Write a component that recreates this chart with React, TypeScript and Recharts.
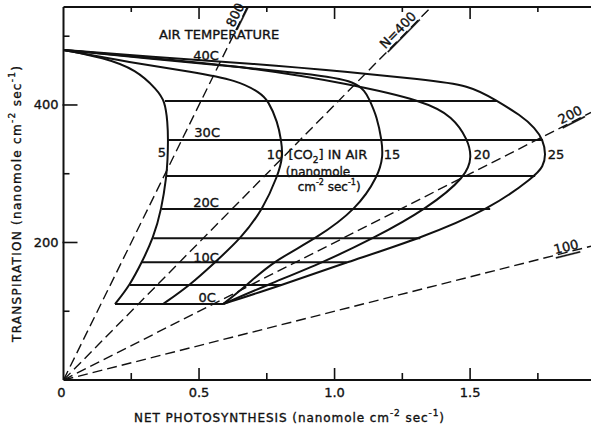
import React from 'react';
import { ComposedChart, Line, XAxis, YAxis, ReferenceDot } from 'recharts';

// ---- axes ----
const X_MAX = 1.946;
const Y_MAX = 542.5;
const X_TICKS = [0, 0.25, 0.5, 0.75, 1, 1.25, 1.5, 1.75];
const X_MAJOR = [0, 0.5, 1, 1.5];
const X_TICK_LABELS = ['0', '0.5', '1.0', '1.5'];
const Y_TICKS = [100, 200, 300, 400, 500];
const Y_MAJOR = [200, 400];
const Y_TICK_LABELS = ['200', '400'];

// ---- CO2 curves (net photosynthesis x, transpiration y) ----
const curveCO2_5 = [
  { x: 0, y: 480 }, { x: 0.147, y: 469 }, { x: 0.27, y: 451 }, { x: 0.345, y: 422 },
  { x: 0.374, y: 405.8 }, { x: 0.384, y: 375 }, { x: 0.386, y: 349 }, { x: 0.384, y: 320 },
  { x: 0.38, y: 296.7 }, { x: 0.362, y: 248.7 }, { x: 0.331, y: 206 }, { x: 0.289, y: 171.3 },
  { x: 0.245, y: 138 }, { x: 0.19, y: 110.5 },
];
const curveCO2_10 = [
  { x: 0, y: 480 }, { x: 0.245, y: 462 }, { x: 0.478, y: 448 }, { x: 0.64, y: 436 },
  { x: 0.725, y: 418 }, { x: 0.756, y: 405.8 }, { x: 0.79, y: 375 }, { x: 0.803, y: 349 },
  { x: 0.81, y: 325 }, { x: 0.79, y: 296.7 }, { x: 0.736, y: 248.7 }, { x: 0.655, y: 206 },
  { x: 0.559, y: 171.3 }, { x: 0.467, y: 138 }, { x: 0.367, y: 110.5 },
];
const curveCO2_15 = [
  { x: 0, y: 480 }, { x: 0.3, y: 468 }, { x: 0.688, y: 454 }, { x: 0.873, y: 446 },
  { x: 1.094, y: 436 }, { x: 1.131, y: 405.8 }, { x: 1.156, y: 383 }, { x: 1.174, y: 349 },
  { x: 1.179, y: 325 }, { x: 1.161, y: 296.7 }, { x: 1.082, y: 248.7 }, { x: 0.934, y: 206 },
  { x: 0.768, y: 171.3 }, { x: 0.677, y: 138 }, { x: 0.589, y: 110.5 },
];
const curveCO2_20 = [
  { x: 0, y: 480 }, { x: 0.32, y: 468 }, { x: 0.688, y: 455 }, { x: 1.057, y: 430.5 },
  { x: 1.33, y: 405.8 }, { x: 1.437, y: 383 }, { x: 1.492, y: 349 }, { x: 1.506, y: 325 },
  { x: 1.488, y: 296.7 }, { x: 1.34, y: 248.7 }, { x: 1.143, y: 206 }, { x: 0.959, y: 171.3 },
  { x: 0.75, y: 138 }, { x: 0.589, y: 110.5 },
];
const curveCO2_25 = [
  { x: 0, y: 480 }, { x: 0.32, y: 470 }, { x: 0.688, y: 460.7 }, { x: 1.057, y: 448 },
  { x: 1.316, y: 437.4 }, { x: 1.5, y: 429 }, { x: 1.599, y: 405.8 }, { x: 1.685, y: 385.5 },
  { x: 1.74, y: 366.5 }, { x: 1.769, y: 349 }, { x: 1.78, y: 328 }, { x: 1.769, y: 310 },
  { x: 1.74, y: 296.7 }, { x: 1.574, y: 248.7 }, { x: 1.316, y: 206 }, { x: 1.045, y: 171.3 },
  { x: 0.805, y: 138 }, { x: 0.589, y: 110.5 },
];
const CO2_CURVES = [curveCO2_5, curveCO2_10, curveCO2_15, curveCO2_20, curveCO2_25];

// ---- isotherms (air temperature, C) ----
const TEMPS = [0, 5, 10, 15, 20, 25, 30, 35];
const ISO_Y = [110.5, 138, 171.3, 206, 248.7, 296.7, 349, 405.8];
const ISO_LEFT = [0.19, 0.245, 0.289, 0.331, 0.362, 0.38, 0.386, 0.374];
const ISO_RIGHT = [0.589, 0.805, 1.045, 1.316, 1.574, 1.74, 1.769, 1.599];

// ---- ratio lines N = T / P ----
const N_RATIOS = [800, 400, 200, 100];

const isoData = TEMPS.map((t, i) => [
  { x: ISO_LEFT[i], y: ISO_Y[i] },
  { x: ISO_RIGHT[i], y: ISO_Y[i] },
]);
const ratioData = N_RATIOS.map((n) => {
  const xe = Math.min(X_MAX, Y_MAX / n);
  return [{ x: 0, y: 0 }, { x: xe, y: xe * n }];
});

const FONT = '"DejaVu Sans", "Liberation Sans", sans-serif';
const INK = '#111';
const TXT = { fontFamily: FONT, fill: INK, stroke: INK, strokeWidth: 0.35 };

// ---- in-plot labels ----
type Lbl = { x: number; y: number; text: React.ReactNode; rot?: number; size?: number; underline?: boolean };
const LABELS: Lbl[] = [
  { x: 0.574, y: 501.8, text: 'AIR TEMPERATURE' },
  { x: 0.526, y: 471.3, text: '40C' },
  { x: 0.53, y: 359.3, text: '30C' },
  { x: 0.526, y: 257.5, text: '20C' },
  { x: 0.526, y: 177.5, text: '10C' },
  { x: 0.53, y: 120.7, text: '0C' },
  { x: 0.363, y: 330.2, text: '5' },
  { x: 0.78, y: 327.3, text: '10' },
  { x: 1.212, y: 327.3, text: '15' },
  { x: 1.544, y: 327.3, text: '20' },
  { x: 1.817, y: 327.3, text: '25' },
  {
    x: 0.975, y: 327.3,
    text: (
      <>
        [CO<tspan baselineShift="sub" fontSize={9}>2</tspan>] IN AIR
      </>
    ),
  },
  { x: 0.939, y: 302.5, text: '(nanomole', size: 12 },
  {
    x: 0.98, y: 280.7, size: 12,
    text: (
      <>
        cm<tspan baselineShift="super" fontSize={8}>-2</tspan> sec<tspan baselineShift="super" fontSize={8}>-1</tspan>)
      </>
    ),
  },
  { x: 0.633, y: 531, text: '800', rot: -63.8, underline: true },
  { x: 1.234, y: 509, text: 'N=400', rot: -45.4, underline: true },
  { x: 1.869, y: 385.5, text: '200', rot: -26.9, underline: true },
  { x: 1.854, y: 193.5, text: '100', rot: -14.2, underline: true },
];

const makeLabelShape = (l: Lbl) => (props: any) => {
  const { cx, cy } = props;
  return (
    <text
      x={cx}
      y={cy}
      textAnchor="middle"
      dominantBaseline="central"
      {...TXT}
      fontSize={l.size ?? 13}
      textDecoration={l.underline ? 'underline' : undefined}
      transform={l.rot ? `rotate(${l.rot} ${cx} ${cy})` : undefined}
    >
      {l.text}
    </text>
  );
};

// ---- ticks ----
const BottomTick = (props: any) => {
  const { x, y, payload } = props;
  const idx = X_MAJOR.indexOf(payload.value);
  const major = idx >= 0;
  return (
    <g>
      {payload.value !== 0 && (
        <line x1={x} x2={x} y1={y} y2={y - (major ? 12 : 7)} stroke={INK} strokeWidth={1.6} />
      )}
      {major && (
        <text x={x - (payload.value === 0 ? 2 : 0)} y={y + 17} textAnchor="middle" {...TXT} fontSize={13}>
          {X_TICK_LABELS[idx]}
        </text>
      )}
    </g>
  );
};
const TopTick = (props: any) => {
  const { x, y, payload } = props;
  if (payload.value === 0) return <g />;
  const major = X_MAJOR.indexOf(payload.value) >= 0;
  return <line x1={x} x2={x} y1={y} y2={y + (major ? 12 : 5)} stroke={INK} strokeWidth={1.6} />;
};
const LeftTick = (props: any) => {
  const { x, y, payload } = props;
  const idx = Y_MAJOR.indexOf(payload.value);
  const major = idx >= 0;
  return (
    <g>
      <line x1={x - (major ? 1 : 0)} x2={x + (major ? 14 : 6)} y1={y} y2={y} stroke={INK} strokeWidth={1.6} />
      {major && (
        <text x={x - 5} y={y} dominantBaseline="central" textAnchor="end" {...TXT} fontSize={13}>
          {Y_TICK_LABELS[idx]}
        </text>
      )}
    </g>
  );
};

const XTitle = (props: any) => {
  const vb = props.viewBox || { x: 63.5, y: 380 };
  return (
    <text
      x={vb.x + 225.5}
      y={vb.y + 38}
      textAnchor="middle"
      dominantBaseline="central"
      {...TXT}
      fontSize={12}
      textLength={310}
      lengthAdjust="spacing"
    >
      NET PHOTOSYNTHESIS (nanomole cm<tspan baselineShift="super" fontSize={9}>-2</tspan> sec<tspan baselineShift="super" fontSize={9}>-1</tspan>)
    </text>
  );
};
const YTitle = () => {
  const cx = 17;
  const cy = 204;
  return (
    <text
      x={cx}
      y={cy}
      textAnchor="middle"
      dominantBaseline="central"
      {...TXT}
      fontSize={12}
      textLength={276}
      lengthAdjust="spacing"
      transform={`rotate(-90 ${cx} ${cy})`}
    >
      TRANSPIRATION (nanomole cm<tspan baselineShift="super" fontSize={9}>-2</tspan> sec<tspan baselineShift="super" fontSize={9}>-1</tspan>)
    </text>
  );
};

export default function App() {
  return (
    <div style={{ position: 'absolute', left: 0, top: 0, background: '#fff' }}>
      <ComposedChart
        width={591}
        height={429}
        margin={{ top: 0, right: 0, bottom: 0, left: 0 }}
        style={{ fontFamily: FONT, background: '#fff' }}
      >
        <XAxis
          xAxisId="b"
          dataKey="x"
          type="number"
          domain={[0, X_MAX]}
          ticks={X_TICKS}
          allowDataOverflow
          height={49}
          orientation="bottom"
          axisLine={{ stroke: INK, strokeWidth: 2 }}
          tickLine={false}
          tickSize={0}
          tickMargin={0}
          tick={BottomTick}
          interval={0}
          label={{ content: XTitle }}
        />
        <XAxis
          xAxisId="t"
          dataKey="x"
          type="number"
          domain={[0, X_MAX]}
          ticks={X_TICKS}
          allowDataOverflow
          height={7}
          orientation="top"
          axisLine={{ stroke: INK, strokeWidth: 2 }}
          tickLine={false}
          tickSize={0}
          tickMargin={0}
          tick={TopTick}
          interval={0}
        />
        <YAxis
          yAxisId="l"
          dataKey="y"
          type="number"
          domain={[0, Y_MAX]}
          ticks={Y_TICKS}
          allowDataOverflow
          width={63.5}
          axisLine={{ stroke: INK, strokeWidth: 2 }}
          tickLine={false}
          tickSize={0}
          tickMargin={0}
          tick={LeftTick}
          interval={0}
          label={{ content: YTitle }}
        />

        {ratioData.map((d, i) => (
          <Line
            key={'n' + i}
            xAxisId="b"
            yAxisId="l"
            data={d}
            dataKey="y"
            type="linear"
            stroke={INK}
            strokeWidth={1.4}
            strokeDasharray="10 5"
            dot={false}
            activeDot={false}
            isAnimationActive={false}
          />
        ))}
        {isoData.map((d, i) => (
          <Line
            key={'t' + i}
            xAxisId="b"
            yAxisId="l"
            data={d}
            dataKey="y"
            type="linear"
            stroke={INK}
            strokeWidth={2}
            dot={false}
            activeDot={false}
            isAnimationActive={false}
          />
        ))}
        {CO2_CURVES.map((d, i) => (
          <Line
            key={'c' + i}
            xAxisId="b"
            yAxisId="l"
            data={d}
            dataKey="y"
            type="basis"
            stroke={INK}
            strokeWidth={2}
            dot={false}
            activeDot={false}
            isAnimationActive={false}
          />
        ))}
        {LABELS.map((l, i) => (
          <ReferenceDot
            key={'l' + i}
            xAxisId="b"
            yAxisId="l"
            x={l.x}
            y={l.y}
            r={1}
            ifOverflow="visible"
            shape={makeLabelShape(l)}
          />
        ))}
      </ComposedChart>
    </div>
  );
}
